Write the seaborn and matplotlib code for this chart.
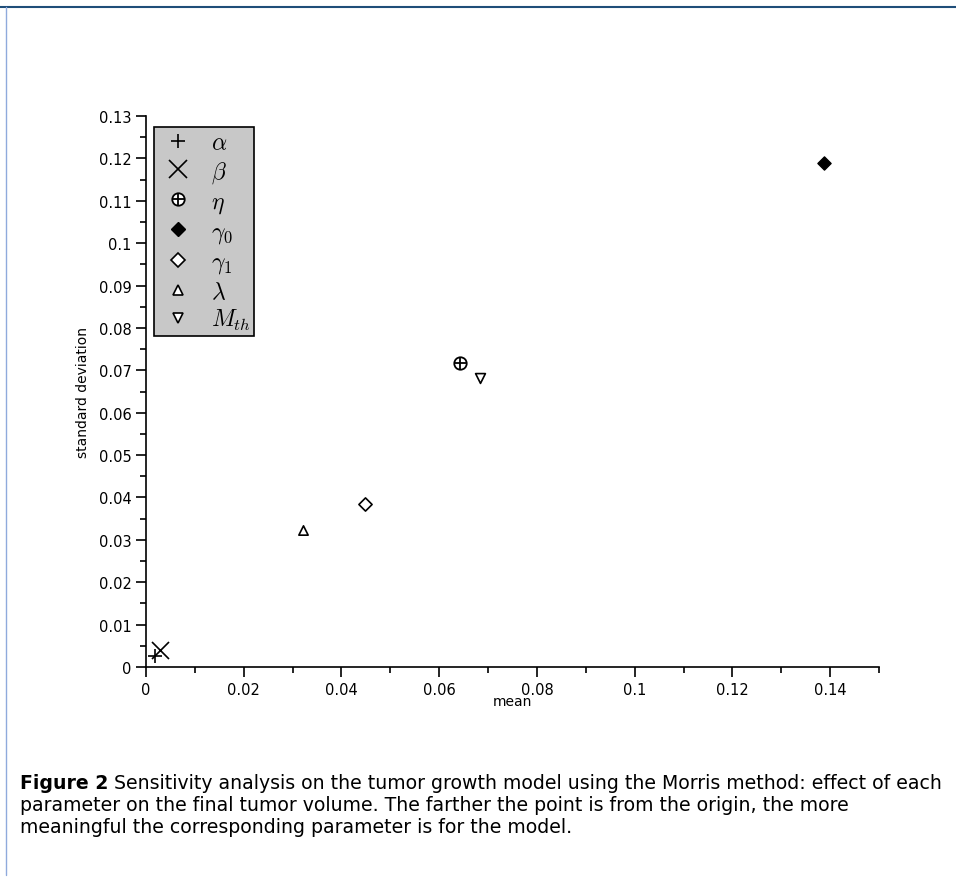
import matplotlib
matplotlib.use("Agg")
import matplotlib.pyplot as plt
import seaborn as sns
import pandas as pd
from matplotlib.ticker import MultipleLocator
from matplotlib.lines import Line2D

# Morris sensitivity results (mean, standard deviation) per parameter
params = [r"$\alpha$", r"$\beta$", r"$\eta$", r"$\gamma_0$", r"$\gamma_1$", r"$\lambda$", r"$M_{th}$"]
mean_vals = [0.0018, 0.0029, 0.0643, 0.1388, 0.0449, 0.0322, 0.0684]
std_vals = [0.0026, 0.0040, 0.0717, 0.1189, 0.0384, 0.0323, 0.0682]

df = pd.DataFrame({"param": params, "mean": mean_vals, "std": std_vals})

sns.set_style("ticks")
plt.rcParams['font.family'] = ['DejaVu Sans']
plt.rcParams['mathtext.fontset'] = 'cm'
plt.rcParams['text.color'] = 'black'
plt.rcParams['axes.labelcolor'] = 'black'
plt.rcParams['xtick.color'] = 'black'
plt.rcParams['ytick.color'] = 'black'

# marker styles for each parameter: list of (marker, size, facecolor, linewidth)
styles = {
    r"$\alpha$": [("+", 100, "black", 1.2)],
    r"$\beta$": [("x", 150, "black", 1.2)],
    r"$\eta$": [("o", 80, "white", 1.3), ("+", 80, "black", 1.3)],
    r"$\gamma_0$": [("D", 45, "black", 1.0)],
    r"$\gamma_1$": [("D", 45, "white", 1.2)],
    r"$\lambda$": [("^", 45, "white", 1.2)],
    r"$M_{th}$": [("v", 50, "white", 1.2)],
}

fig = plt.figure(figsize=(9.56, 8.78), dpi=100)
ax = fig.add_axes([0.1527, 0.2392, 0.7668, 0.6275])

handles = []
labels = []
for _, row in df.iterrows():
    parts = []
    for mk, s, fc, lw in styles[row["param"]]:
        sns.scatterplot(x=[row["mean"]], y=[row["std"]], marker=mk, s=s,
                        color="black", facecolor=fc, edgecolor="black",
                        linewidth=lw, ax=ax, zorder=3)
        parts.append(Line2D([], [], linestyle="none", marker=mk,
                            markersize=s ** 0.5, markerfacecolor=fc,
                            markeredgecolor="black", markeredgewidth=lw,
                            color="black"))
    handles.append(tuple(parts) if len(parts) > 1 else parts[0])
    labels.append(row["param"])

ax.set_xlim(0, 0.15)
ax.set_ylim(0, 0.13)
ax.xaxis.set_major_locator(MultipleLocator(0.02))
ax.xaxis.set_minor_locator(MultipleLocator(0.01))
ax.yaxis.set_major_locator(MultipleLocator(0.01))
ax.yaxis.set_minor_locator(MultipleLocator(0.005))

def fmt(v, pos):
    return "0" if abs(v) < 1e-12 else ("%g" % round(v, 3))

ax.xaxis.set_major_formatter(fmt)
ax.yaxis.set_major_formatter(fmt)
ax.tick_params(which="major", length=7, width=1.2, labelsize=10.5)
ax.tick_params(which="minor", length=4, width=1.2)
for side in ["top", "right"]:
    ax.spines[side].set_visible(False)
for side in ["left", "bottom"]:
    ax.spines[side].set_linewidth(1.2)
    ax.spines[side].set_color("black")

ax.set_xlabel("mean", fontsize=10, labelpad=-2)
ax.set_ylabel("standard deviation", fontsize=10, labelpad=6)

leg = ax.legend(handles=handles, labels=labels, loc="upper left",
                bbox_to_anchor=(0.011, 0.98),
                fontsize=17, labelspacing=0.16, handletextpad=0.5,
                borderpad=0.15, borderaxespad=0, frameon=True, fancybox=False,
                handlelength=1.75)
leg.get_frame().set_facecolor("#c8c8c8")
leg.get_frame().set_edgecolor("black")
leg.get_frame().set_linewidth(1.2)
leg.get_frame().set_alpha(1)

# page frame lines (top and left)
fig.add_artist(Line2D([0, 1], [1 - 8 / 878, 1 - 8 / 878], transform=fig.transFigure,
                      color="#1f4e79", linewidth=1.5))
fig.add_artist(Line2D([6 / 956, 6 / 956], [2 / 878, 1 - 8 / 878], transform=fig.transFigure,
                      color="#8faadc", linewidth=1.0))

caption_lines = [
    "Sensitivity analysis on the tumor growth model using the Morris method: effect of each",
    "parameter on the final tumor volume. The farther the point is from the origin, the more",
    "meaningful the corresponding parameter is for the model.",
]
cap_size = 13.6
x0 = 20 / 956
y0 = 1 - 774 / 878
head = fig.text(x0, y0, "Figure 2", fontsize=cap_size, fontweight="bold",
                va="top", ha="left")
renderer = fig.canvas.get_renderer()
hw = head.get_window_extent(renderer).width / fig.bbox.width
fig.text(x0 + hw + 6 / 956, y0, caption_lines[0], fontsize=cap_size, va="top", ha="left")
fig.text(x0, y0 - 22 / 878, "\n".join(caption_lines[1:]), fontsize=cap_size,
         va="top", ha="left", linespacing=1.2)

fig.savefig("out.png", dpi=100)
